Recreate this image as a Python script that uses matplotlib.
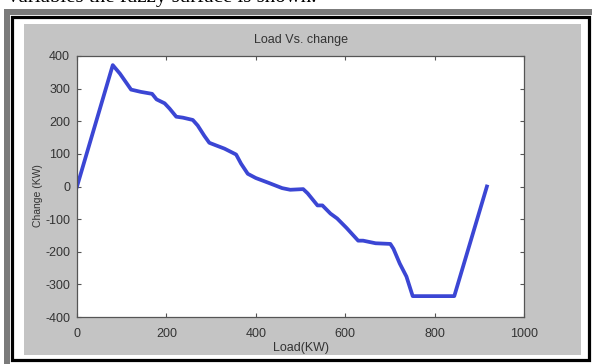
import matplotlib
matplotlib.use('Agg')
import matplotlib.pyplot as plt
from matplotlib.patches import Rectangle

plt.rcParams['axes.unicode_minus'] = False

# datos
load = [0, 80, 96, 121, 143, 168, 178, 196, 207, 222, 237, 259, 270, 285,
        296, 311, 330, 356, 367, 382, 400, 429, 459, 477, 506, 516, 538, 549,
        567, 582, 603, 621, 629, 640, 668, 701, 708, 722, 737, 751, 844, 917]
change = [0, 372, 346, 297, 290, 284, 267, 255, 239, 214, 211, 204, 187, 155,
          134, 126, 116, 98, 70, 39, 26, 11, -5, -10, -8, -21, -58, -58,
          -83, -98, -127, -154, -166, -166, -174, -176, -191, -236, -276, -336, -336, 0]
xticks = [0, 200, 400, 600, 800, 1000]
yticks = [-400, -300, -200, -100, 0, 100, 200, 300, 400]

W, H = 592, 364
fig = plt.figure(figsize=(W / 100, H / 100), dpi=100)

# marco de fondo (coordenadas en pixeles)
bg = fig.add_axes([0, 0, 1, 1])
bg.set_xlim(0, W)
bg.set_ylim(H, 0)
bg.axis('off')
bg.add_patch(Rectangle((4, 9), W - 4, 6, color='#7b7b7b', lw=0))
bg.add_patch(Rectangle((4, 9), 6, H - 9, color='#7b7b7b', lw=0))
bg.add_patch(Rectangle((11.5, 16.5), 577.5, 343, fill=False, ec='black', lw=2.3))
bg.add_patch(Rectangle((24, 24), 557, 331, color='#c4c4c4', lw=0))

# texto cortado de la pagina (en el original solo se ve la parte de abajo)
fig.text(8 / W, 1 - 2 / H, 'variables the fuzzy surface is shown.',
         family='Liberation Serif', fontsize=15, va='baseline', ha='left')

ax = fig.add_axes([77 / W, 1 - 317 / H, 447 / W, 261 / H])
ax.set_facecolor('white')
ax.plot(load, change, color='#3b46d4', lw=2.7, solid_joinstyle='round')
ax.set_xlim(0, 1000)
ax.set_ylim(-400, 400)
ax.set_xticks(xticks)
ax.set_yticks(yticks)
ax.tick_params(direction='in', length=3, width=0.8, top=True, right=True,
               labelsize=9, labelcolor='#333333', color='#555555')
ax.tick_params(axis='x', pad=8)
ax.tick_params(axis='y', pad=5)
for lab in ax.get_xticklabels() + ax.get_yticklabels():
    lab.set_family('Liberation Sans')
for s in ax.spines.values():
    s.set_color('#555555')
    s.set_linewidth(0.9)
ax.set_title('Load Vs. change', family='Liberation Sans', fontsize=9,
             color='#333333', pad=9)
ax.set_xlabel('Load(KW)', family='Liberation Sans', fontsize=9,
              color='#333333', labelpad=1)
ax.set_ylabel('Change (KW)', family='Liberation Sans', fontsize=7.5,
              color='#333333')
ax.yaxis.set_label_coords(-0.076, 0.467)

fig.savefig('out.png', dpi=100)
